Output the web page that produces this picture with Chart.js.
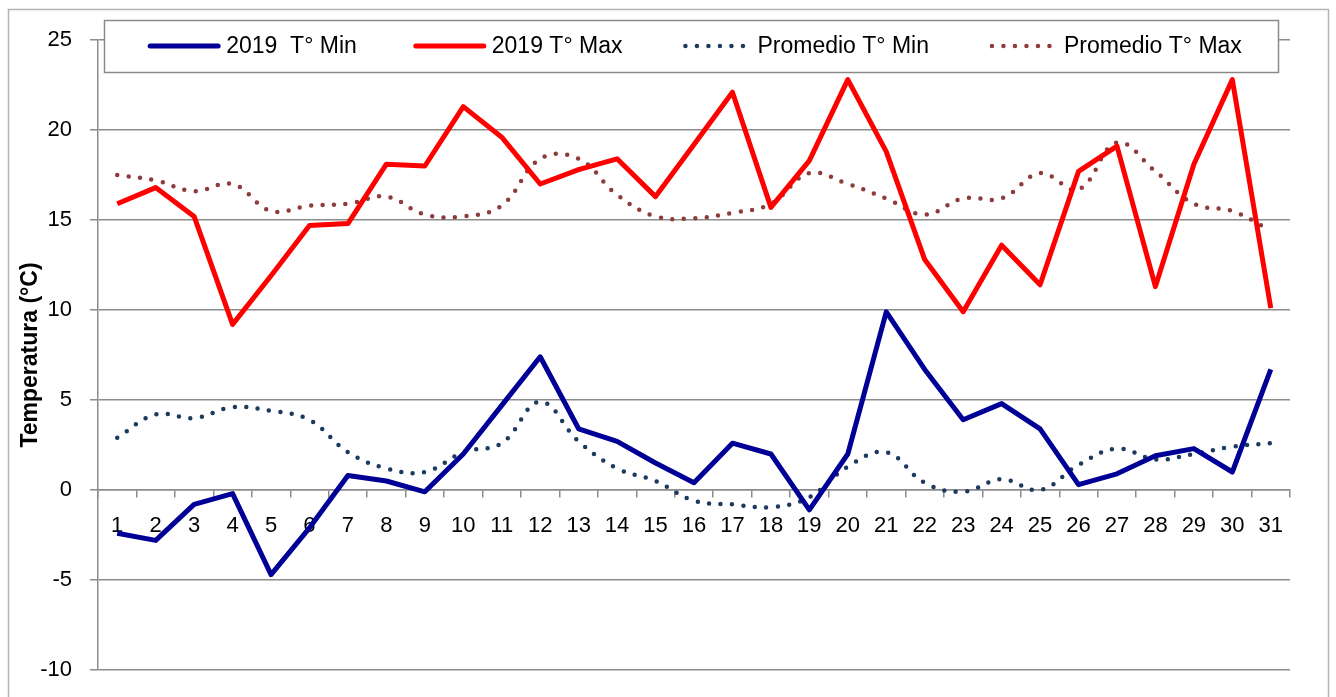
<!DOCTYPE html>
<html>
<head>
<meta charset="utf-8">
<script src="https://cdn.jsdelivr.net/npm/chart.js@4.4.1/dist/chart.umd.min.js"></script>
<style>
  html, body { margin: 0; padding: 0; background: #ffffff; }
  #wrap { width: 1336px; height: 697px; position: relative; }
</style>
</head>
<body>
<div id="wrap"><canvas id="c" width="1336" height="697"></canvas></div>
<script>
const days = ['1','2','3','4','5','6','7','8','9','10','11','12','13','14','15','16','17','18','19','20','21','22','23','24','25','26','27','28','29','30','31'];
const min2019 = [-2.4,-2.8,-0.8,-0.2,-4.7,-2.1,0.8,0.5,-0.1,2.0,4.7,7.4,3.4,2.7,1.5,0.4,2.6,2.0,-1.1,2.0,9.9,6.7,3.9,4.8,3.4,0.3,0.9,1.9,2.3,1.0,6.7];
const max2019 = [15.9,16.8,15.2,9.2,11.9,14.7,14.8,18.1,18.0,21.3,19.6,17.0,17.8,18.4,16.3,19.2,22.1,15.7,18.3,22.8,18.8,12.8,9.9,13.6,11.4,17.7,19.1,11.3,18.1,22.8,10.1];
const promMin = [2.9,4.2,4.0,4.6,4.4,3.9,2.1,1.2,1.0,2.1,2.6,4.9,2.7,1.2,0.5,-0.6,-0.8,-0.95,-0.4,1.3,2.1,0.4,-0.1,0.6,0.0,1.4,2.3,1.7,2.0,2.4,2.6];
const promMax = [17.5,17.2,16.6,17.0,15.5,15.8,15.9,16.3,15.3,15.2,15.8,18.4,18.4,16.4,15.2,15.1,15.4,15.9,17.6,17.0,16.2,15.3,16.2,16.2,17.6,16.7,19.3,17.7,15.9,15.5,14.4];
const seriesNames = ['2019  T° Min', '2019 T° Max', 'Promedio T° Min', 'Promedio T° Max'];
const yTitle = 'Temperatura (°C)';

const FONT = "'Liberation Sans', Arial, sans-serif";
const GRID = '#8c8c8c';

const frame = {
  id: 'frame',
  beforeDraw(chart) {
    const ctx = chart.ctx;
    ctx.save();
    ctx.fillStyle = '#ffffff';
    ctx.fillRect(0, 0, chart.width, chart.height);
    ctx.strokeStyle = '#b3b3b3';
    ctx.lineWidth = 1.5;
    ctx.strokeRect(8.5, 9.5, 1320, 700);
    ctx.restore();
  }
};

const legendBox = {
  id: 'legendBox',
  afterDraw(chart) {
    const ctx = chart.ctx;
    const bx = 104, by = 20, bw = 1174, bh = 52;
    ctx.save();
    ctx.fillStyle = '#ffffff';
    ctx.fillRect(bx, by, bw, bh);
    ctx.strokeStyle = '#8a8a8a';
    ctx.lineWidth = 1.5;
    ctx.strokeRect(bx + 0.5, by + 0.5, bw, bh);
    ctx.font = '23px ' + FONT;
    ctx.textBaseline = 'middle';
    ctx.fillStyle = '#000000';
    const sampleW = 72, gapText = 6, gapItem = 57;
    const ds = chart.data.datasets;
    let total = 0;
    ds.forEach((d, i) => {
      total += sampleW + gapText + ctx.measureText(d.label).width;
      if (i < ds.length - 1) total += gapItem;
    });
    let x = bx + (bw - total) / 2 + 4;
    const cy = by + bh / 2;
    ds.forEach((d) => {
      ctx.save();
      ctx.strokeStyle = d.borderColor;
      ctx.lineWidth = d.borderWidth;
      ctx.lineCap = 'round';
      const dashed = d.borderDash && d.borderDash.length;
      if (dashed) ctx.setLineDash(d.borderDash);
      ctx.beginPath();
      if (dashed) {
        ctx.moveTo(x + 6, cy);
        ctx.lineTo(x + sampleW - 4, cy);
      } else {
        ctx.moveTo(x + 2, cy);
        ctx.lineTo(x + sampleW - 2, cy);
      }
      ctx.stroke();
      ctx.restore();
      ctx.fillText(d.label, x + sampleW + gapText, cy + 1);
      x += sampleW + gapText + ctx.measureText(d.label).width + gapItem;
    });
    ctx.restore();
  }
};

new Chart(document.getElementById('c'), {
  type: 'line',
  data: {
    labels: days,
    datasets: [
      { label: seriesNames[0], data: min2019, borderColor: '#000096', backgroundColor: '#000096', borderWidth: 5, tension: 0, pointRadius: 0, borderJoinStyle: 'round' },
      { label: seriesNames[1], data: max2019, borderColor: '#ff0000', backgroundColor: '#ff0000', borderWidth: 5, tension: 0, pointRadius: 0, borderJoinStyle: 'round' },
      { label: seriesNames[2], data: promMin, borderColor: '#1b3a5e', backgroundColor: '#1b3a5e', borderWidth: 4.5, borderDash: [0, 11.5], borderCapStyle: 'round', tension: 0.4, pointRadius: 0 },
      { label: seriesNames[3], data: promMax, borderColor: '#8e3b3b', backgroundColor: '#8e3b3b', borderWidth: 4.5, borderDash: [0, 11.5], borderCapStyle: 'round', tension: 0.4, pointRadius: 0 }
    ]
  },
  options: {
    responsive: false,
    animation: false,
    devicePixelRatio: 1,
    layout: { padding: { left: 0, top: 40, right: 46, bottom: 27 } },
    plugins: { legend: { display: false }, tooltip: { enabled: false } },
    scales: {
      x: {
        position: { y: 0 },
        offset: true,
        grid: { drawOnChartArea: false, drawTicks: true, tickLength: 7, offset: true, color: GRID, lineWidth: 1.5 },
        border: { display: true, color: GRID, width: 1.5 },
        ticks: { color: '#000000', font: { family: FONT, size: 22 }, padding: 16, maxRotation: 0, autoSkip: false }
      },
      y: {
        min: -10, max: 25,
        ticks: { stepSize: 5, color: '#000000', font: { family: FONT, size: 22 }, padding: 18 },
        grid: { color: GRID, lineWidth: 1.5, drawTicks: true, tickLength: 8 },
        border: { display: true, color: GRID, width: 1.5 },
        title: { display: true, text: yTitle, color: '#000000', font: { family: FONT, size: 23, weight: 'bold' }, padding: { top: 17, bottom: 0 } },
        afterFit(scale) { scale.width = 98; scale.paddingTop = 0; scale.paddingBottom = 0; }
      }
    }
  },
  plugins: [frame, legendBox]
});
</script>
</body>
</html>
